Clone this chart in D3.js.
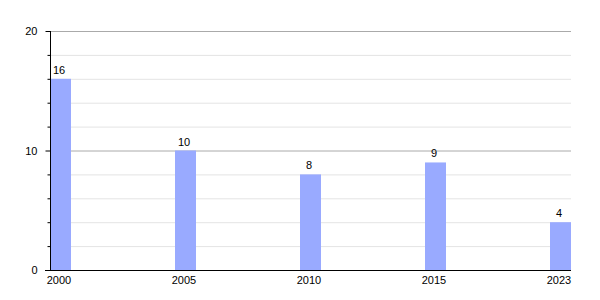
<!DOCTYPE html>
<html><head><meta charset="utf-8">
<script src="https://cdn.jsdelivr.net/npm/d3@7"></script>
<style>body{margin:0;background:#fff}svg{display:block}text{font-family:"Liberation Sans",Arial,sans-serif;font-size:11px;fill:#000}</style>
</head><body><svg id="c" width="600" height="300"></svg>
<script>
const categories = ["2000","2005","2010","2015","2023"];
const values = [16,10,8,9,4];
const majorTicks = [0,10,20];
const minorTicks = [2,4,6,8,12,14,16,18];

(function(){
const svg = d3.select("#c");
const mLeft = 50, mRight = 571, mTop = 31, mBottom = 270, barW = 21;
const x = d3.scalePoint().domain(categories).range([mLeft, 550]);
const y = d3.scaleLinear().domain([0,20]).range([mBottom, mTop]);

// minor grid
svg.append("g").selectAll("line").data(minorTicks).join("line")
  .attr("x1", mLeft).attr("x2", mRight).attr("y1", d=>y(d)+0.5).attr("y2", d=>y(d)+0.5)
  .attr("stroke", "#e4e4e4");
// major grid
svg.append("g").selectAll("line").data(majorTicks.filter(d=>d>0)).join("line")
  .attr("x1", mLeft).attr("x2", mRight).attr("y1", d=>y(d)+0.5).attr("y2", d=>y(d)+0.5)
  .attr("stroke", "#aaaaaa");

// bars
svg.append("g").selectAll("rect").data(values).join("rect")
  .attr("x", (d,i)=>x(categories[i])).attr("width", barW)
  .attr("y", d=>y(d)).attr("height", d=>mBottom - y(d))
  .attr("fill", "#99aaff");

// value labels
svg.append("g").selectAll("text").data(values).join("text")
  .attr("x", (d,i)=>x(categories[i]) + barW/2 - 1.5).attr("y", d=>y(d)-5)
  .attr("text-anchor","middle").text(d=>d);

// y axis
const yAxis = d3.axisLeft(y).tickValues(majorTicks).tickSize(5).tickPadding(8).tickFormat(d3.format("d"));
const ga = svg.append("g").attr("transform", `translate(${mLeft+0.5},0)`).call(yAxis);
ga.select(".domain").attr("stroke","#000").attr("d", `M0,${mTop}V${mBottom}`);
ga.selectAll(".tick line").attr("stroke","#000");
ga.selectAll(".tick text").style("font-family",'"Liberation Sans",Arial,sans-serif').style("font-size","11px").attr("fill","#000");
const gm = svg.append("g").attr("transform", `translate(${mLeft+0.5},0)`)
  .call(d3.axisLeft(y).tickValues(minorTicks).tickSize(3).tickFormat(""));
gm.select(".domain").remove();
gm.selectAll(".tick line").attr("stroke","#000");

// x baseline
svg.append("line").attr("x1", mLeft-5).attr("x2", mRight).attr("y1", mBottom+0.5).attr("y2", mBottom+0.5).attr("stroke","#000");

// x labels
svg.append("g").selectAll("text").data(categories).join("text")
  .attr("x", d=>x(d)+barW/2 - 1.5).attr("y", mBottom+14)
  .attr("text-anchor","middle").text(d=>d);
})();
</script></body></html>
